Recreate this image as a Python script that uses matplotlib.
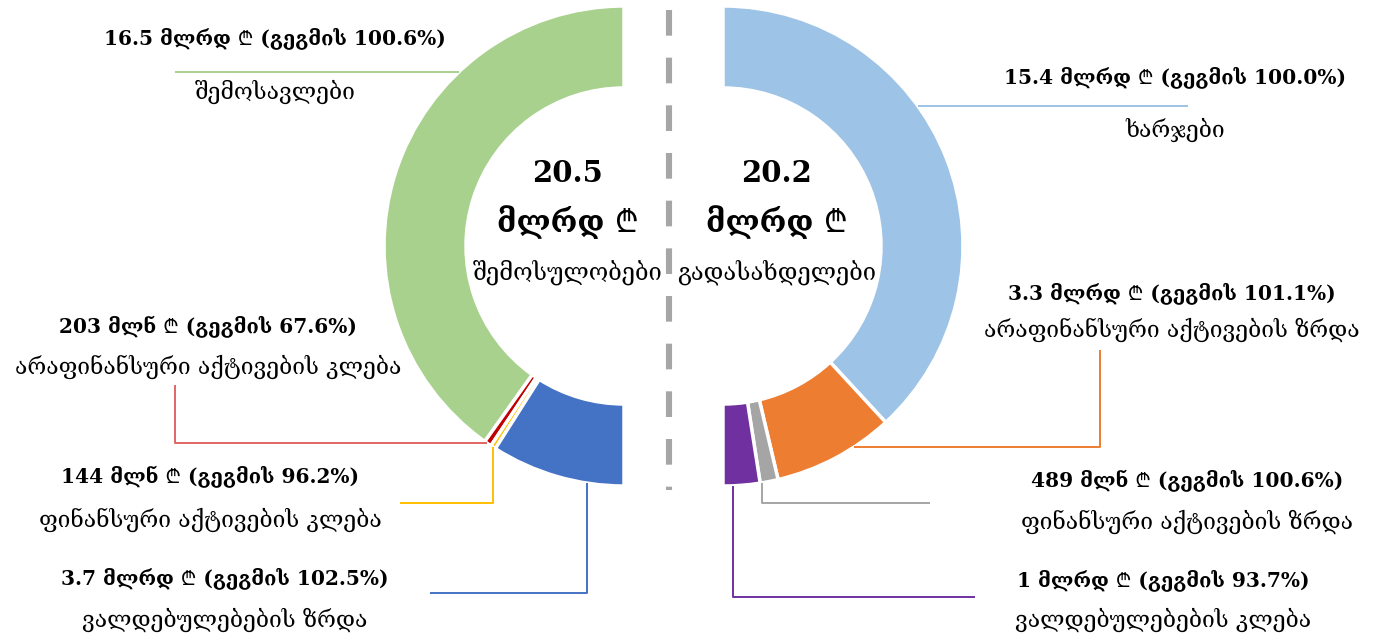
import numpy as np
import matplotlib
matplotlib.use("Agg")
import matplotlib.pyplot as plt
from matplotlib import font_manager
from matplotlib.ft2font import FT2Font

# ---------------- data ----------------
inflow_names = ["შემოსავლები", "არაფინანსური აქტივების კლება",
                "ფინანსური აქტივების კლება", "ვალდებულებების ზრდა"]
inflow_values = [16.5, 0.203, 0.144, 3.7]          # bln GEL
inflow_amounts = ["16.5 მლრდ ₾", "203 მლნ ₾", "144 მლნ ₾", "3.7 მლრდ ₾"]
inflow_plan = [100.6, 67.6, 96.2, 102.5]
inflow_total = 20.5
inflow_title = "შემოსულობები"

outflow_names = ["ხარჯები", "არაფინანსური აქტივების ზრდა",
                 "ფინანსური აქტივების ზრდა", "ვალდებულებების კლება"]
outflow_values = [15.4, 3.3, 0.489, 1.0]
outflow_amounts = ["15.4 მლრდ ₾", "3.3 მლრდ ₾", "489 მლნ ₾", "1 მლრდ ₾"]
outflow_plan = [100.0, 101.1, 100.6, 93.7]
outflow_total = 20.2
outflow_title = "გადასახდელები"

unit = "მლრდ ₾"

# ---------------- fonts ----------------
def lari_families():
    found = []
    for f in font_manager.fontManager.ttflist:
        try:
            ft = FT2Font(f.fname)
            if 0x20BE in ft.get_charmap() and f.name not in found:
                found.append(f.name)
        except Exception:
            pass
    return found

lari = lari_families()
pref = [n for n in ["Noto Sans", "Roboto", "Open Sans", "Lato", "Inter",
                    "Noto Sans CJK SC"] if n in lari] + lari
FONT = ["DejaVu Serif", "DejaVu Sans"] + pref[:1]
plt.rcParams["font.family"] = FONT

# ---------------- style ----------------
inflow_colors = ["#A9D18E", "#C00000", "#FFC000", "#4472C4"]
outflow_colors = ["#9DC3E6", "#ED7D31", "#A5A5A5", "#7030A0"]

W, H = 1382, 639
fig = plt.figure(figsize=(W / 100, H / 100), dpi=100)
ax = fig.add_axes([0, 0, 1, 1])

R, RING = 240, 82
left_c = (624, 246)
right_c = (723, 246)


def half_donut(values, colors, center, counterclock):
    tot = sum(values)
    fr = [v / (2 * tot) for v in values]
    ax.pie(fr, colors=colors, center=center, radius=R, startangle=270,
           counterclock=counterclock, normalize=False,
           wedgeprops=dict(width=RING, edgecolor="white", linewidth=2.5))
    cum = np.concatenate([[0], np.cumsum(values)]) / tot * 180
    sign = 1 if counterclock else -1
    return [(270 + sign * cum[i], 270 + sign * cum[i + 1]) for i in range(len(values))]


left_angles = half_donut(inflow_values, inflow_colors, left_c, False)
right_angles = half_donut(outflow_values, outflow_colors, right_c, True)


def anchor(center, angles, frac):
    a0, a1 = angles
    th = np.deg2rad(a0 + (a1 - a0) * frac)
    return center[0] + R * np.cos(th), center[1] + R * np.sin(th)


def leader(center, angles, frac, steps, color):
    x, y = anchor(center, angles, frac)
    xs, ys = [x], [y]
    for kind, val in steps:
        if kind == "h":
            x = val
        else:
            y = val
        xs.append(x)
        ys.append(y)
    ax.plot(xs, ys, color=color, lw=1.4, solid_capstyle="butt")


line_cols_in = ["#A9D18E", "#E06666", "#FFC000", "#4472C4"]
line_cols_out = ["#9DC3E6", "#ED7D31", "#A5A5A5", "#7030A0"]
leader(left_c, left_angles[0], 0.30, [("h", 175)], line_cols_in[0])
leader(left_c, left_angles[1], 0.3, [("h", 175), ("v", 385)], line_cols_in[1])
leader(left_c, left_angles[2], 0.5, [("v", 503), ("h", 400)], line_cols_in[2])
leader(left_c, left_angles[3], 0.73, [("v", 593), ("h", 430)], line_cols_in[3])
leader(right_c, right_angles[0], 0.395, [("h", 1188)], line_cols_out[0])
leader(right_c, right_angles[1], 0.33, [("h", 1100), ("v", 350)], line_cols_out[1])
leader(right_c, right_angles[2], 0.9, [("v", 503), ("h", 930)], line_cols_out[2])
leader(right_c, right_angles[3], 0.73, [("v", 597), ("h", 975)], line_cols_out[3])

# dashed divider
ax.plot([669, 669], [10, 490], color="#A6A6A6", lw=4.4,
        dashes=(4.2, 3.6), solid_capstyle="butt", dash_capstyle="butt")

# labels: (x, y of bold line, y of name line)
in_pos = [(275, 38, 92), (208, 327, 367), (210, 477, 520), (225, 578, 620)]
out_pos = [(1175, 77, 130), (1172, 293, 330), (1187, 481, 522), (1163, 580, 620)]

for names, amts, plans, pos in [(inflow_names, inflow_amounts, inflow_plan, in_pos),
                                (outflow_names, outflow_amounts, outflow_plan, out_pos)]:
    for n, a, p, (x, y1, y2) in zip(names, amts, plans, pos):
        ax.text(x, y1, f"{a} (გეგმის {p:.1f}%)", ha="center", va="center",
                fontsize=14.5, fontweight="bold", color="black")
        ax.text(x, y2, n, ha="center", va="center", fontsize=16.5, color="black")

# centre totals
for tot, title, cx in [(inflow_total, inflow_title, 568), (outflow_total, outflow_title, 777)]:
    ax.text(cx, 173, f"{tot:.1f}", ha="center", va="center", fontsize=21,
            fontweight="bold")
    ax.text(cx, 222, unit, ha="center", va="center", fontsize=22, fontweight="bold")
    ax.text(cx, 272, title, ha="center", va="center", fontsize=17)

ax.set_xlim(0, W)
ax.set_ylim(H, 0)
ax.set_aspect("equal")
ax.axis("off")
fig.savefig("out.png", dpi=100, facecolor="white")
